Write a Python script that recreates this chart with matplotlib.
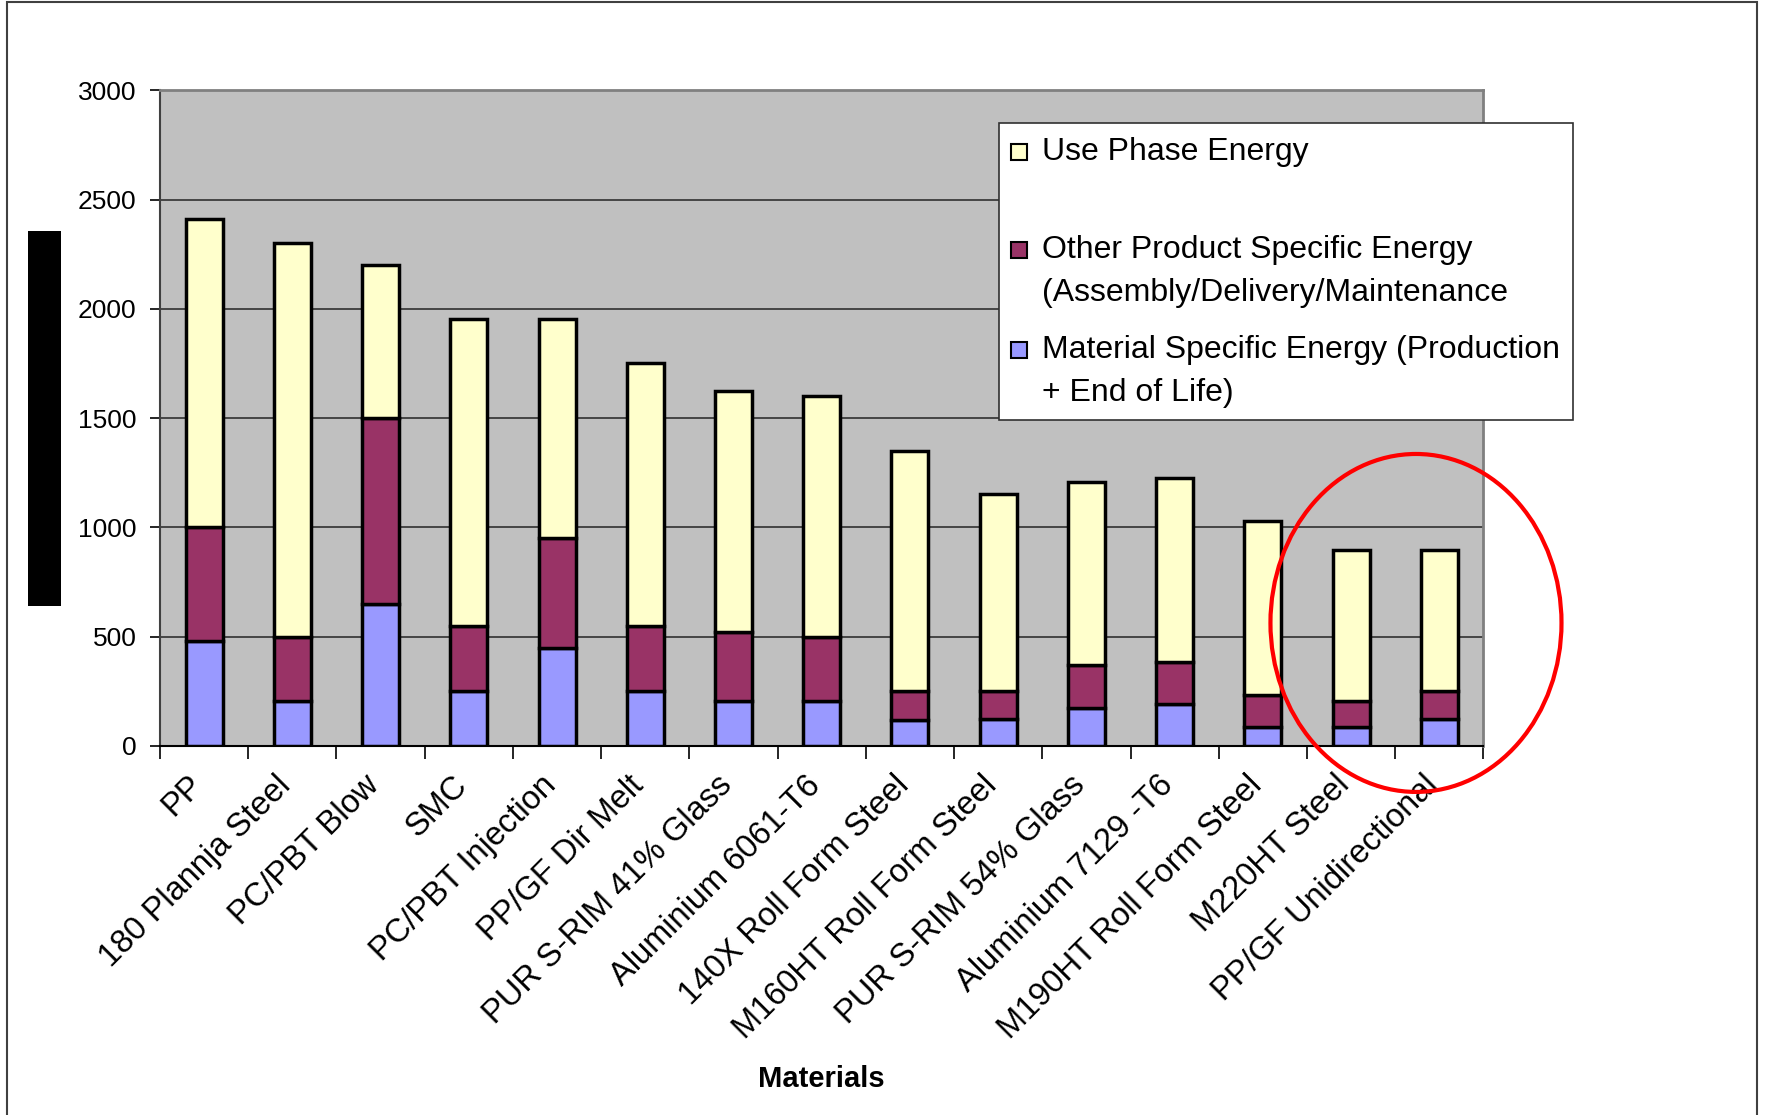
import matplotlib.pyplot as plt
import numpy as np
from matplotlib.patches import Rectangle, Ellipse
from matplotlib.transforms import ScaledTranslation

plt.rcParams['font.family'] = ['Liberation Sans', 'DejaVu Sans']

materials = ['PP', '180 Plannja Steel', 'PC/PBT Blow', 'SMC', 'PC/PBT Injection',
             'PP/GF Dir Melt', 'PUR S-RIM 41% Glass', 'Aluminium 6061-T6',
             '140X Roll Form Steel', 'M160HT Roll Form Steel', 'PUR S-RIM 54% Glass',
             'Aluminium 7129 -T6', 'M190HT Roll Form Steel', 'M220HT Steel',
             'PP/GF Unidirectional']
# cumulative levels of each stack
material_energy = np.array([480, 205, 650, 250, 450, 250, 205, 205, 120, 125, 175, 190, 85, 85, 125])
other_top = np.array([1000, 500, 1500, 550, 950, 550, 520, 500, 250, 250, 370, 385, 235, 205, 250])
total = np.array([2410, 2300, 2200, 1955, 1955, 1750, 1625, 1600, 1350, 1155, 1210, 1225, 1030, 895, 895])

other_energy = other_top - material_energy
use_energy = total - other_top

labels = ['Use Phase Energy',
          'Other Product Specific Energy\n(Assembly/Delivery/Maintenance',
          'Material Specific Energy (Production\n+ End of Life)']
colors = ['#FFFFCC', '#993366', '#9999FF']

fig = plt.figure(figsize=(17.66, 11.15), dpi=100)
ax = fig.add_axes([0.0906, 0.331, 0.7494, 0.588])
ax.set_facecolor('#C0C0C0')

x = np.arange(len(materials))
w = 0.42
ax.bar(x, material_energy, w, color=colors[2], edgecolor='black', linewidth=2.5, zorder=3)
ax.bar(x, other_energy, w, bottom=material_energy, color=colors[1], edgecolor='black', linewidth=2.5, zorder=3)
ax.bar(x, use_energy, w, bottom=other_top, color=colors[0], edgecolor='black', linewidth=2.5, zorder=3)

ax.set_xlim(-0.5, len(materials) - 0.5)
ax.set_ylim(0, 3000)
ax.set_yticks(np.arange(0, 3001, 500))
ax.yaxis.grid(True, color='#303030', linewidth=1.2, zorder=0)
ax.set_axisbelow(True)
ax.tick_params(axis='y', labelsize=19, length=7, width=1.2, pad=10)

ax.set_xticks(x)
ax.set_xticklabels(materials, rotation=45, ha='right', va='center',
                   rotation_mode='anchor', fontsize=23.5)
ax.tick_params(axis='x', length=0, pad=25)
shift = ScaledTranslation(-6 / 100, 0, fig.dpi_scale_trans)
for t in ax.get_xticklabels():
    t.set_transform(t.get_transform() + shift)
ax.set_xticks(np.arange(-0.5, len(materials), 1), minor=True)
ax.tick_params(axis='x', which='minor', length=9, width=1.2)

for s in ['top', 'right']:
    ax.spines[s].set_color('#808080')
    ax.spines[s].set_linewidth(2)
ax.spines['left'].set_color('#404040')
ax.spines['left'].set_linewidth(1.5)
ax.spines['bottom'].set_linewidth(1.5)

fig.text(0.4649, 0.0323, 'Materials', fontsize=21, fontweight='bold',
         ha='center', va='center')

# legend box
fig.patches.append(Rectangle((0.5657, 0.6233), 0.325, 0.2664, transform=fig.transFigure,
                             facecolor='white', edgecolor='#303030', linewidth=1.2, zorder=5))
hy = [0.8637, 0.7758, 0.6861]
sw, sh = 16 / 1766, 16 / 1115
for yy, c, lab in zip(hy, colors, labels):
    fig.patches.append(Rectangle((0.577 - sw / 2, yy - sh / 2), sw, sh, transform=fig.transFigure,
                                 facecolor=c, edgecolor='black', linewidth=1.5, zorder=6))
    for k, ln in enumerate(lab.split('\n')):
        fig.text(0.590, yy - k * 0.0383, ln, fontsize=23, ha='left', va='center', zorder=7)

# black block on the left
fig.patches.append(Rectangle((0.01586, 0.4565), 0.0187, 0.3363, transform=fig.transFigure,
                             facecolor='black', edgecolor='none', zorder=5))

# red highlight ellipse
fig.patches.append(Ellipse((0.8018, 0.4413), 0.1648, 0.3031, transform=fig.transFigure,
                           facecolor='none', edgecolor='#FF0000', linewidth=3, zorder=8))

# outer frame
fig.patches.append(Rectangle((0.004, -0.01), 0.991, 1.008, transform=fig.transFigure,
                             facecolor='none', edgecolor='#404040', linewidth=1.5, zorder=9))

fig.savefig('out.png', dpi=100)
